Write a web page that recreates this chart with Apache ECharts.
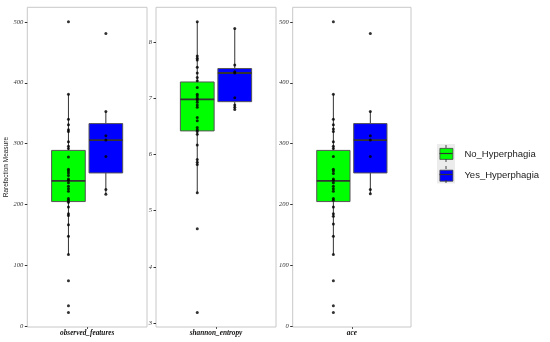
<!DOCTYPE html>
<html>
<head>
<meta charset="utf-8">
<script src="https://cdn.jsdelivr.net/npm/echarts@6/dist/echarts.min.js"></script>
<style>html,body{margin:0;padding:0;background:#fff;}#c{width:550px;height:342px;}</style>
</head>
<body>
<div id="c"></div>
<script>
// ---- data ----
const panels = ['observed_features', 'shannon_entropy', 'ace'];
const groups = ['No_Hyperphagia', 'Yes_Hyperphagia'];
const groupColors = ['#00FF00', '#0000FF'];

// box stats: [lower whisker, Q1, median, Q3, upper whisker]
const obsNoBox = [118, 205, 239, 289, 381];
const obsYesBox = [217, 252, 306, 333, 353];
const shanNoBox = [5.32, 6.42, 6.98, 7.29, 8.36];
const shanYesBox = [6.80, 6.94, 7.45, 7.53, 8.24];
const aceNoBox = [118, 205, 239, 289, 381];
const aceYesBox = [218, 252, 306, 333, 353];

// individual samples
const obsNo = [500, 381, 340, 331, 323, 320, 303, 296, 292, 278, 258, 255, 252, 248, 242, 240, 236, 230, 226, 222, 210, 207, 204, 196, 185, 182, 167, 148, 118, 75, 34, 23];
const obsYes = [481, 353, 313, 306, 279, 225, 217];
const shanNo = [8.36, 7.75, 7.71, 7.68, 7.55, 7.45, 7.37, 7.31, 7.19, 7.07, 7.04, 7.00, 6.97, 6.93, 6.88, 6.84, 6.66, 6.60, 6.48, 6.44, 6.41, 6.36, 6.17, 5.91, 5.86, 5.82, 5.32, 4.68, 3.19];
const shanYes = [8.24, 7.59, 7.47, 7.45, 7.01, 6.88, 6.84, 6.80];
const aceNo = [500, 381, 340, 331, 324, 320, 303, 296, 292, 279, 258, 255, 251, 242, 240, 236, 230, 226, 222, 210, 207, 196, 185, 181, 168, 148, 118, 75, 34, 23];
const aceYes = [481, 353, 313, 306, 279, 225, 218];

// tick labels
const obsTicks = [0, 100, 200, 300, 400, 500];
const shanTicks = [3, 4, 5, 6, 7, 8];
const aceTicks = [0, 100, 200, 300, 400, 500];

// ---- layout / style constants ----
const panelData = [
  { boxes: [obsNoBox, obsYesBox], pts: [obsNo, obsYes], ticks: obsTicks },
  { boxes: [shanNoBox, shanYesBox], pts: [shanNo, shanYes], ticks: shanTicks },
  { boxes: [aceNoBox, aceYesBox], pts: [aceNo, aceYes], ticks: aceTicks }
];
const gridPos = [
  { left: 27.3, width: 119.7 },
  { left: 156, width: 120 },
  { left: 292.7, width: 118.3 }
];
const DODGE = [-0.1875, 0.1875];
const BOX_W = 0.3375;
const TOP = 7.3, HEIGHT = 322;

function extent(arrs) {
  const all = [].concat(...arrs);
  const mn = Math.min(...all), mx = Math.max(...all);
  const pad = (mx - mn) * 0.05;
  return [mn - pad, mx + pad];
}

function boxRender(params, api) {
  const x = api.value(0);
  const lo = api.coord([x, api.value(1)]);
  const q1 = api.coord([x, api.value(2)]);
  const med = api.coord([x, api.value(3)]);
  const q3 = api.coord([x, api.value(4)]);
  const hi = api.coord([x, api.value(5)]);
  const hw = api.size([BOX_W, 0])[0] / 2;
  const fill = api.visual('color');
  return {
    type: 'group',
    children: [
      { type: 'line', shape: { x1: lo[0], y1: lo[1], x2: q1[0], y2: q1[1] }, style: { stroke: '#333', lineWidth: 1 } },
      { type: 'line', shape: { x1: q3[0], y1: q3[1], x2: hi[0], y2: hi[1] }, style: { stroke: '#333', lineWidth: 1 } },
      { type: 'rect', shape: { x: q3[0] - hw, y: q3[1], width: 2 * hw, height: q1[1] - q3[1] }, style: { fill: fill, stroke: '#555', lineWidth: 1 } },
      { type: 'line', shape: { x1: med[0] - hw, y1: med[1], x2: med[0] + hw, y2: med[1] }, style: { stroke: '#333', lineWidth: 1.8 } }
    ]
  };
}

const grids = [], xAxes = [], yAxes = [], series = [];
panels.forEach((p, i) => {
  const pd = panelData[i];
  grids.push({ left: gridPos[i].left, width: gridPos[i].width, top: TOP, height: HEIGHT,
    show: true, borderColor: '#c8c8c8', borderWidth: 1, backgroundColor: '#fff' });
  xAxes.push({
    gridIndex: i, type: 'value', min: -0.6, max: 0.6, position: 'bottom',
    axisLine: { show: false, onZero: false }, splitLine: { show: false },
    axisTick: { show: true, customValues: [0], length: 2, lineStyle: { color: '#555' } },
    axisLabel: { show: false },
    name: p, nameLocation: 'middle', nameGap: 3,
    nameTextStyle: { fontFamily: 'Liberation Serif', fontStyle: 'italic', fontWeight: 'bold', fontSize: 7.3, color: '#111' }
  });
  const ext = extent(pd.pts);
  const y = {
    gridIndex: i, type: 'value', min: ext[0], max: ext[1], position: 'left',
    axisLine: { show: false, onZero: false }, splitLine: { show: false },
    axisTick: { show: true, customValues: pd.ticks, length: 2.5, lineStyle: { color: '#333' } },
    axisLabel: { customValues: pd.ticks, margin: 4, fontFamily: 'Liberation Serif', fontStyle: 'italic', fontSize: 6.5, color: '#333' }
  };
  if (i === 0) {
    y.name = 'Rarefaction Measure';
    y.nameLocation = 'middle';
    y.nameGap = 16;
    y.nameTextStyle = { fontFamily: 'Liberation Sans', fontSize: 6.5, color: '#222' };
  }
  yAxes.push(y);
  groups.forEach((g, k) => {
    series.push({
      type: 'custom', name: g, xAxisIndex: i, yAxisIndex: i,
      itemStyle: { color: groupColors[k] },
      renderItem: boxRender,
      encode: { x: 0, y: [1, 2, 3, 4, 5] },
      data: [[DODGE[k]].concat(pd.boxes[k])],
      z: 2
    });
  });
  groups.forEach((g, k) => {
    series.push({
      type: 'scatter', name: 'pts_' + g, xAxisIndex: i, yAxisIndex: i,
      symbol: 'circle', symbolSize: 3, itemStyle: { color: '#000' },
      data: pd.pts[k].map(v => [DODGE[k], v]),
      clip: false, z: 3, silent: true
    });
  });
});

// legend key decorations (whiskers + median) drawn over the legend boxes
const LEG_X = 439.5, LEG_TOP = 148, KEY_W = 13, KEY_H = 11, KEY_STEP = 21;
const keyGraphics = [{ type: 'rect', left: 437, top: 144, shape: { width: 18, height: 39.5 }, style: { fill: '#ececec' }, z: 0 }];
groups.forEach((g, k) => {
  const y0 = LEG_TOP + k * KEY_STEP;
  const cx = LEG_X + KEY_W / 2;
  keyGraphics.push({ type: 'line', shape: { x1: cx, y1: y0 - 3, x2: cx, y2: y0 }, style: { stroke: '#333', lineWidth: 0.9 }, z: 100 });
  keyGraphics.push({ type: 'line', shape: { x1: cx, y1: y0 + KEY_H, x2: cx, y2: y0 + KEY_H + 3 }, style: { stroke: '#333', lineWidth: 0.9 }, z: 100 });
  keyGraphics.push({ type: 'line', shape: { x1: LEG_X, y1: y0 + KEY_H / 2, x2: LEG_X + KEY_W, y2: y0 + KEY_H / 2 }, style: { stroke: '#333', lineWidth: 1.2 }, z: 100 });
});

const option = {
  animation: false,
  backgroundColor: '#fff',
  grid: grids, xAxis: xAxes, yAxis: yAxes, series: series,
  legend: {
    orient: 'vertical', left: LEG_X, top: LEG_TOP, padding: 0,
    itemWidth: KEY_W, itemHeight: KEY_H, itemGap: KEY_STEP - KEY_H,
    icon: 'rect',
    data: groups.map((g, k) => ({ name: g, itemStyle: { color: groupColors[k], borderColor: '#444', borderWidth: 0.8 } })),
    textStyle: { fontFamily: 'Liberation Sans', fontSize: 9.5, color: '#1a1a1a', padding: [0, 0, 0, 6.5] },
    selectedMode: false
  },
  graphic: keyGraphics
};

const chart = echarts.init(document.getElementById('c'), null, { renderer: 'canvas' });
chart.setOption(option);
</script>
</body>
</html>
